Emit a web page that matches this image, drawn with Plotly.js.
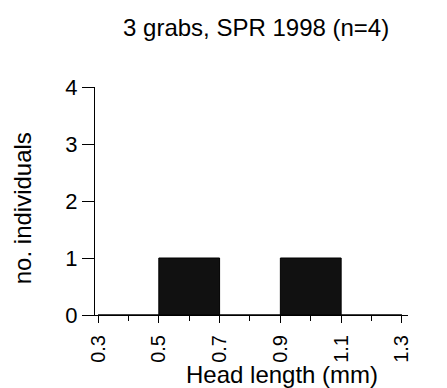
<!DOCTYPE html>
<html><head><meta charset="utf-8">
<script src="https://cdn.plot.ly/plotly-3.0.1.min.js"></script>
<style>html,body{margin:0;padding:0;background:#fff}#c{width:447px;height:388px}</style>
</head><body><div id="c"></div>
<script>
const binCenters = [0.4, 0.6, 0.8, 1.0, 1.2];
const counts = [0, 1, 0, 1, 0];
const binWidth = 0.2;
const xTickVals = [0.3, 0.5, 0.7, 0.9, 1.1, 1.3];
const xTickText = ['0.3', '0.5', '0.7', '0.9', '1.1', '1.3'];
const yTickVals = [0, 1, 2, 3, 4];

const font = 'Liberation Sans, Arial, Helvetica, sans-serif';
Plotly.newPlot('c', [{
  type: 'bar', x: binCenters, y: counts, width: binWidth,
  marker: {color: '#111', line: {color: '#000', width: 1}}, hoverinfo: 'none'
}], {
  width: 447, height: 388,
  margin: {l: 95, r: 39, t: 87, b: 73},
  paper_bgcolor: '#fff', plot_bgcolor: '#fff',
  showlegend: false,
  font: {family: font, color: '#000'},
  title: {text: '3 grabs, SPR 1998 (n=4)', font: {size: 24, family: font, color: '#000'}, x: 0.573, xanchor: 'center', y: 0.93, yanchor: 'middle'},
  xaxis: {
    range: [0.29, 1.32], tickvals: xTickVals, ticktext: xTickText, tickangle: -90,
    tickfont: {size: 20}, ticks: 'outside', ticklen: 7, tickcolor: '#000', ticklabelstandoff: 4,
    minor: {dtick: 0.1, tick0: 0.3, ticks: 'outside', ticklen: 5, tickcolor: '#000', showgrid: false},
    showline: true, linecolor: '#000', linewidth: 1, showgrid: false, zeroline: false,
    title: {text: ''}
  },
  yaxis: {
    range: [0, 4], tickvals: yTickVals, tickfont: {size: 22}, ticks: 'outside', ticklen: 12, tickcolor: '#000',
    showline: true, linecolor: '#000', linewidth: 1, showgrid: false, zeroline: false,
    title: {text: ''}
  },
  annotations: [{
    text: 'Head length (mm)', xref: 'paper', yref: 'paper', x: 0.599, y: -0.26,
    xanchor: 'center', yanchor: 'middle', showarrow: false, font: {size: 24, family: font, color: '#000'}
  }, {
    text: 'no. individuals', xref: 'paper', yref: 'paper', x: -0.232, y: 0.47, textangle: -90,
    xanchor: 'center', yanchor: 'middle', showarrow: false, font: {size: 24, family: font, color: '#000'}
  }]
}, {displayModeBar: false, staticPlot: true});
</script></body></html>
